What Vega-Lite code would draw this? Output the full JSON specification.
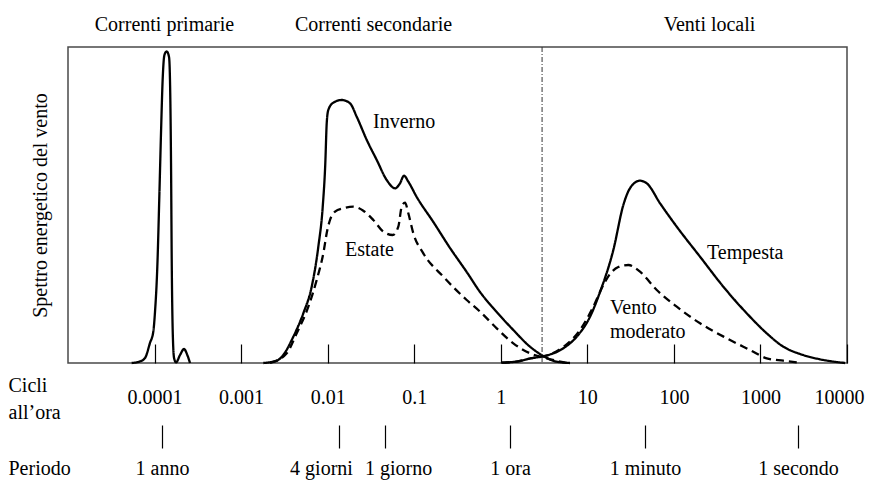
{
  "$schema": "https://vega.github.io/schema/vega-lite/v6.json",
  "width": 779,
  "height": 316,
  "autosize": {"type": "none"},
  "padding": {"left": 68, "top": 47, "right": 30, "bottom": 117},
  "background": "white",
  "config": {
    "font": "Liberation Serif",
    "view": {"stroke": "#4a4a4a", "strokeWidth": 1.5},
    "axis": {"labelFont": "Liberation Serif", "titleFont": "Liberation Serif", "labelFontSize": 20, "titleFontSize": 20, "labelColor": "black", "titleColor": "black", "titleFontWeight": "normal", "grid": false}
  },
  "datasets": {
    "curve": [
      {"curva": "Correnti primarie", "cicli": 0.0000544, "energia": 0},
      {"curva": "Correnti primarie", "cicli": 0.0000679, "energia": 1.6},
      {"curva": "Correnti primarie", "cicli": 0.0000776, "energia": 5},
      {"curva": "Correnti primarie", "cicli": 0.0000885, "energia": 20},
      {"curva": "Correnti primarie", "cicli": 0.0000968, "energia": 31.6},
      {"curva": "Correnti primarie", "cicli": 0.000101, "energia": 50},
      {"curva": "Correnti primarie", "cicli": 0.000108, "energia": 100},
      {"curva": "Correnti primarie", "cicli": 0.0001135, "energia": 166},
      {"curva": "Correnti primarie", "cicli": 0.000119, "energia": 233},
      {"curva": "Correnti primarie", "cicli": 0.000124, "energia": 283},
      {"curva": "Correnti primarie", "cicli": 0.00013, "energia": 308},
      {"curva": "Correnti primarie", "cicli": 0.000138, "energia": 311.6},
      {"curva": "Correnti primarie", "cicli": 0.000147, "energia": 306},
      {"curva": "Correnti primarie", "cicli": 0.000152, "energia": 266},
      {"curva": "Correnti primarie", "cicli": 0.000155, "energia": 200},
      {"curva": "Correnti primarie", "cicli": 0.000158, "energia": 100},
      {"curva": "Correnti primarie", "cicli": 0.000162, "energia": 33},
      {"curva": "Correnti primarie", "cicli": 0.000168, "energia": 5},
      {"curva": "Correnti primarie", "cicli": 0.000177, "energia": 0.6},
      {"curva": "Correnti primarie", "cicli": 0.000197, "energia": 8},
      {"curva": "Correnti primarie", "cicli": 0.000219, "energia": 14},
      {"curva": "Correnti primarie", "cicli": 0.000239, "energia": 8},
      {"curva": "Correnti primarie", "cicli": 0.000257, "energia": 0},
      {"curva": "Inverno", "cicli": 0.001805, "energia": 0},
      {"curva": "Inverno", "cicli": 0.002578, "energia": 2.3},
      {"curva": "Inverno", "cicli": 0.00307, "energia": 8},
      {"curva": "Inverno", "cicli": 0.00401, "energia": 26.3},
      {"curva": "Inverno", "cicli": 0.00523, "energia": 49.7},
      {"curva": "Inverno", "cicli": 0.00654, "energia": 76.3},
      {"curva": "Inverno", "cicli": 0.0078, "energia": 116.3},
      {"curva": "Inverno", "cicli": 0.00877, "energia": 156.3},
      {"curva": "Inverno", "cicli": 0.00939, "energia": 199.7},
      {"curva": "Inverno", "cicli": 0.00975, "energia": 239.7},
      {"curva": "Inverno", "cicli": 0.01017, "energia": 253},
      {"curva": "Inverno", "cicli": 0.01162, "energia": 260.3},
      {"curva": "Inverno", "cicli": 0.01453, "energia": 263},
      {"curva": "Inverno", "cicli": 0.01812, "energia": 259.7},
      {"curva": "Inverno", "cicli": 0.02166, "energia": 246.3},
      {"curva": "Inverno", "cicli": 0.0283, "energia": 223},
      {"curva": "Inverno", "cicli": 0.0369, "energia": 203},
      {"curva": "Inverno", "cicli": 0.0481, "energia": 183},
      {"curva": "Inverno", "cicli": 0.06, "energia": 174.7},
      {"curva": "Inverno", "cicli": 0.0685, "energia": 179.7},
      {"curva": "Inverno", "cicli": 0.0762, "energia": 187.3},
      {"curva": "Inverno", "cicli": 0.0855, "energia": 181.3},
      {"curva": "Inverno", "cicli": 0.1069, "energia": 166},
      {"curva": "Inverno", "cicli": 0.1663, "energia": 141},
      {"curva": "Inverno", "cicli": 0.2592, "energia": 115},
      {"curva": "Inverno", "cicli": 0.404, "energia": 91},
      {"curva": "Inverno", "cicli": 0.576, "energia": 71},
      {"curva": "Inverno", "cicli": 0.898, "energia": 51},
      {"curva": "Inverno", "cicli": 1.396, "energia": 33},
      {"curva": "Inverno", "cicli": 2.178, "energia": 16.3},
      {"curva": "Inverno", "cicli": 3.1, "energia": 7},
      {"curva": "Inverno", "cicli": 4.43, "energia": 1.3},
      {"curva": "Inverno", "cicli": 6.31, "energia": 0},
      {"curva": "Estate", "cicli": 0.002158, "energia": 0},
      {"curva": "Estate", "cicli": 0.003365, "energia": 9.7},
      {"curva": "Estate", "cicli": 0.00439, "energia": 29.7},
      {"curva": "Estate", "cicli": 0.00598, "energia": 56.3},
      {"curva": "Estate", "cicli": 0.00747, "energia": 83},
      {"curva": "Estate", "cicli": 0.00891, "energia": 109.7},
      {"curva": "Estate", "cicli": 0.00991, "energia": 133},
      {"curva": "Estate", "cicli": 0.01064, "energia": 143},
      {"curva": "Estate", "cicli": 0.01216, "energia": 151.3},
      {"curva": "Estate", "cicli": 0.01516, "energia": 154.7},
      {"curva": "Estate", "cicli": 0.01979, "energia": 156.3},
      {"curva": "Estate", "cicli": 0.02582, "energia": 152.3},
      {"curva": "Estate", "cicli": 0.0337, "energia": 143},
      {"curva": "Estate", "cicli": 0.044, "energia": 131.3},
      {"curva": "Estate", "cicli": 0.0564, "energia": 128},
      {"curva": "Estate", "cicli": 0.0655, "energia": 136.3},
      {"curva": "Estate", "cicli": 0.0717, "energia": 156.3},
      {"curva": "Estate", "cicli": 0.0783, "energia": 160.3},
      {"curva": "Estate", "cicli": 0.0855, "energia": 149.7},
      {"curva": "Estate", "cicli": 0.0976, "energia": 129.7},
      {"curva": "Estate", "cicli": 0.1274, "energia": 109.7},
      {"curva": "Estate", "cicli": 0.2169, "energia": 86.3},
      {"curva": "Estate", "cicli": 0.404, "energia": 63},
      {"curva": "Estate", "cicli": 0.576, "energia": 51.3},
      {"curva": "Estate", "cicli": 0.898, "energia": 34.7},
      {"curva": "Estate", "cicli": 1.396, "energia": 19.7},
      {"curva": "Estate", "cicli": 2.178, "energia": 9.7},
      {"curva": "Estate", "cicli": 3.4, "energia": 4.7},
      {"curva": "Estate", "cicli": 5.78, "energia": 0},
      {"curva": "Tempesta", "cicli": 1.026, "energia": 0.3},
      {"curva": "Tempesta", "cicli": 1.669, "energia": 2},
      {"curva": "Tempesta", "cicli": 2.178, "energia": 4.5},
      {"curva": "Tempesta", "cicli": 3.4, "energia": 7.5},
      {"curva": "Tempesta", "cicli": 5.28, "energia": 14.7},
      {"curva": "Tempesta", "cicli": 7.54, "energia": 26.3},
      {"curva": "Tempesta", "cicli": 10.75, "energia": 46.3},
      {"curva": "Tempesta", "cicli": 14.02, "energia": 71},
      {"curva": "Tempesta", "cicli": 19.97, "energia": 113},
      {"curva": "Tempesta", "cicli": 26.06, "energia": 158},
      {"curva": "Tempesta", "cicli": 29.5, "energia": 171},
      {"curva": "Tempesta", "cicli": 34.0, "energia": 179},
      {"curva": "Tempesta", "cicli": 40.6, "energia": 182.3},
      {"curva": "Tempesta", "cicli": 48.6, "energia": 179.7},
      {"curva": "Tempesta", "cicli": 69.2, "energia": 159.7},
      {"curva": "Tempesta", "cicli": 107.9, "energia": 136.3},
      {"curva": "Tempesta", "cicli": 200.5, "energia": 106.3},
      {"curva": "Tempesta", "cicli": 372.7, "energia": 76.3},
      {"curva": "Tempesta", "cicli": 694.5, "energia": 49.7},
      {"curva": "Tempesta", "cicli": 1182, "energia": 29.7},
      {"curva": "Tempesta", "cicli": 1839, "energia": 16.3},
      {"curva": "Tempesta", "cicli": 2867, "energia": 9},
      {"curva": "Tempesta", "cicli": 4882, "energia": 3.7},
      {"curva": "Tempesta", "cicli": 9495, "energia": 0},
      {"curva": "Vento moderato", "cicli": 1.026, "energia": 0.3},
      {"curva": "Vento moderato", "cicli": 1.669, "energia": 2},
      {"curva": "Vento moderato", "cicli": 2.178, "energia": 4.5},
      {"curva": "Vento moderato", "cicli": 3.4, "energia": 7.5},
      {"curva": "Vento moderato", "cicli": 5.28, "energia": 16},
      {"curva": "Vento moderato", "cicli": 8.23, "energia": 33},
      {"curva": "Vento moderato", "cicli": 11.73, "energia": 56.3},
      {"curva": "Vento moderato", "cicli": 15.31, "energia": 78},
      {"curva": "Vento moderato", "cicli": 18.29, "energia": 89},
      {"curva": "Vento moderato", "cicli": 22.81, "energia": 96},
      {"curva": "Vento moderato", "cicli": 29.77, "energia": 98},
      {"curva": "Vento moderato", "cicli": 40.6, "energia": 91.3},
      {"curva": "Vento moderato", "cicli": 63.4, "energia": 73},
      {"curva": "Vento moderato", "cicli": 107.9, "energia": 56.3},
      {"curva": "Vento moderato", "cicli": 200.5, "energia": 39.7},
      {"curva": "Vento moderato", "cicli": 408, "energia": 24.7},
      {"curva": "Vento moderato", "cicli": 758, "energia": 13},
      {"curva": "Vento moderato", "cicli": 1182, "energia": 4.7},
      {"curva": "Vento moderato", "cicli": 1839, "energia": 2.3},
      {"curva": "Vento moderato", "cicli": 2627, "energia": 0.7}
    ],
    "etichette": [
      {"testo": "Inverno", "cicli": 0.0334, "energia": 241},
      {"testo": "Estate", "cicli": 0.01585, "energia": 113},
      {"testo": "Tempesta", "cicli": 241.5, "energia": 110},
      {"testo": "Vento", "cicli": 18.3, "energia": 55},
      {"testo": "moderato", "cicli": 18.3, "energia": 31.3}
    ],
    "confine": [{"cicli": 3}]
  },
  "layer": [
    {
      "data": {"name": "curve"},
      "mark": {"type": "line", "interpolate": "monotone", "color": "black", "strokeWidth": 2.3},
      "encoding": {
        "x": {
          "field": "cicli", "type": "quantitative",
          "scale": {"type": "log", "domain": [0.00001, 10000], "nice": false},
          "axis": {
            "orient": "bottom",
            "values": [0.0001, 0.001, 0.01, 0.1, 1, 10, 100, 1000, 10000],
            "labelExpr": "format(datum.value, '~g')",
            "domain": false, "ticks": true, "tickSize": -19, "tickColor": "black", "tickWidth": 1.2,
            "labelPadding": 53, "labelBaseline": "middle", "labelFlush": false, "labelOverlap": false,
            "labelOffset": {"condition": {"test": "datum.value > 5000", "value": -8}, "value": 0},
            "title": ["Cicli", "all’ora"], "titleX": -60, "titleY": 28, "titleAlign": "left",
            "titleBaseline": "alphabetic", "titleLineHeight": 27, "titleAngle": 0
          }
        },
        "y": {
          "field": "energia", "type": "quantitative",
          "scale": {"domain": [0, 316], "nice": false},
          "axis": {"orient": "left", "domain": false, "ticks": false, "labels": false, "title": "Spettro energetico del vento", "titlePadding": 18}
        },
        "strokeDash": {
          "field": "curva", "type": "nominal",
          "scale": {"domain": ["Correnti primarie", "Inverno", "Estate", "Tempesta", "Vento moderato"], "range": [[1, 0], [1, 0], [8, 5], [1, 0], [8, 5]]},
          "legend": null
        }
      }
    },
    {
      "data": {"name": "confine"},
      "mark": {"type": "rule", "strokeDash": [5, 2, 1, 2], "color": "#333333", "strokeWidth": 1},
      "encoding": {
        "x": {
          "field": "cicli", "type": "quantitative",
          "scale": {"type": "log", "domain": [0.00001, 10000], "nice": false},
          "axis": {
            "orient": "bottom", "offset": 62,
            "values": [0.000122, 0.01352, 0.046, 1.28, 46.4, 2718],
            "labelExpr": "datum.value < 0.001 ? '1 anno' : datum.value < 0.02 ? '4 giorni' : datum.value < 0.1 ? '1 giorno' : datum.value < 10 ? '1 ora' : datum.value < 1000 ? '1 minuto' : '1 secondo'",
            "domain": false, "ticks": true, "tickSize": 23, "tickColor": "black", "tickWidth": 1.2,
            "labelPadding": 20, "labelBaseline": "middle", "labelFlush": false, "labelOverlap": false,
            "labelOffset": {"condition": [{"test": "datum.value > 0.01 && datum.value < 0.02", "value": -18}, {"test": "datum.value > 0.04 && datum.value < 0.05", "value": 13}], "value": 0},
            "title": "Periodo", "titleX": -60, "titleY": 49, "titleAlign": "left", "titleBaseline": "alphabetic", "titleAngle": 0
          }
        }
      }
    },
    {
      "data": {"name": "etichette"},
      "mark": {"type": "text", "align": "left", "baseline": "middle", "fontSize": 20, "color": "black", "font": "Liberation Serif"},
      "encoding": {
        "x": {
          "field": "cicli", "type": "quantitative",
          "scale": {"type": "log", "domain": [0.00001, 10000], "nice": false},
          "axis": {
            "orient": "top",
            "values": [0.0001285, 0.0334, 254.7],
            "labelExpr": "datum.value < 0.001 ? 'Correnti primarie' : datum.value < 1 ? 'Correnti secondarie' : 'Venti locali'",
            "domain": false, "ticks": false, "labelPadding": 17, "labelBaseline": "alphabetic", "labelFlush": false, "labelOverlap": false,
            "title": null
          }
        },
        "y": {
          "field": "energia", "type": "quantitative",
          "scale": {"domain": [0, 316], "nice": false},
          "axis": {"orient": "left", "domain": false, "ticks": false, "labels": false, "title": "Spettro energetico del vento", "titlePadding": 18}
        },
        "text": {"field": "testo"}
      }
    }
  ],
  "resolve": {"axis": {"x": "independent"}}
}
